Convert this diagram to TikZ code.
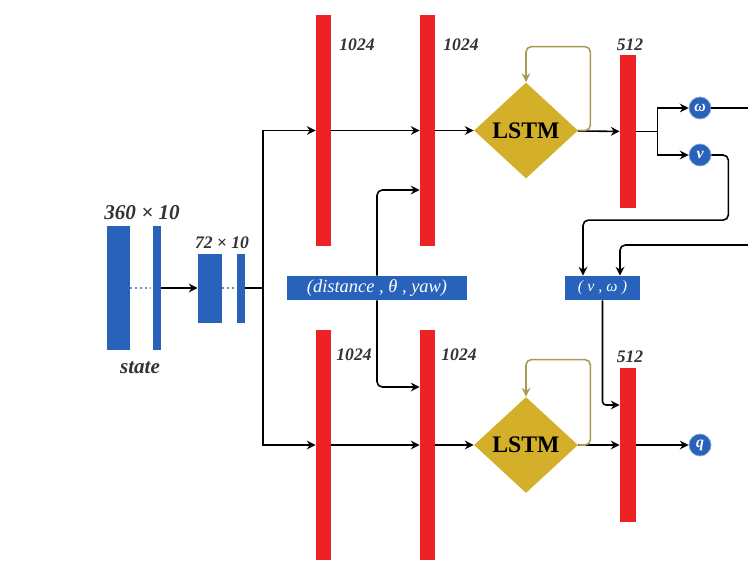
\documentclass[tikz,border=0pt]{standalone}
\usepackage{fontspec}
\setmainfont{Liberation Serif}
\usetikzlibrary{shapes.geometric, arrows.meta}

\definecolor{barred}{RGB}{236,34,38}
\definecolor{netblue}{RGB}{40,98,186}
\definecolor{lstmgold}{RGB}{212,176,42}
\definecolor{loopolive}{RGB}{168,156,84}

\begin{document}
\begin{tikzpicture}[
  redbar/.style={fill=barred, minimum width=0.30cm, minimum height=4.60cm, inner sep=0pt},
  bluebar/.style={fill=netblue, inner sep=0pt},
  lstm/.style={diamond, fill=lstmgold, minimum width=2.08cm, minimum height=1.92cm,
               inner sep=0pt, font=\fontsize{13.5}{16}\selectfont\bfseries},
  outnode/.style={circle, fill=netblue, draw=netblue!55, inner sep=0pt, minimum size=0.44cm,
                  text=white, font=\small\bfseries\itshape},
  inbox/.style={fill=netblue, text=white, font=\fontsize{10.5}{12}\selectfont\itshape,
                inner sep=0pt, minimum height=0.48cm},
  dimlbl/.style={font=\normalsize\bfseries\itshape, text=black!80},
  arrow/.style={-{Stealth[length=5pt, width=5pt]}, line width=0.9pt},
  fb/.style={-{Stealth[length=5pt, width=5pt]}, line width=0.9pt, loopolive, rounded corners=3pt},
]

% Canvas
\fill[white] (0,0) rectangle (14.96,-11.58);
\useasboundingbox (0,0) rectangle (14.96,-11.58);

% === Input stage ===
\node[bluebar, minimum width=0.46cm, minimum height=2.48cm] (st1) at (2.37,-5.76) {};
\node[bluebar, minimum width=0.16cm, minimum height=2.48cm] (st2) at (3.14,-5.76) {};
\node[bluebar, minimum width=0.48cm, minimum height=1.38cm] (sm1) at (4.20,-5.76) {};
\node[bluebar, minimum width=0.16cm, minimum height=1.38cm] (sm2) at (4.82,-5.76) {};
\draw[dotted, netblue!70, thick] (st1.east) -- (st2.west);
\draw[dotted, netblue!70, thick] (sm1.east) -- (sm2.west);

\node[dimlbl, font=\large\bfseries\itshape] (lst) at (2.84,-4.26) {360 × 10};
\node[dimlbl] (lsm) at (4.44,-4.86) {72 × 10};
\node[dimlbl, font=\large\bfseries\itshape] (lstate) at (2.80,-7.36) {state};

\draw[arrow] (st2.east) -- (sm1.west);
\coordinate (fork) at (5.26,-5.76);
\draw[line width=0.9pt] (sm2.east) -- (fork);

% === Top branch ===
\node[redbar] (fcA1) at (6.47,-2.61) {};
\node[redbar] (fcA2) at (8.55,-2.61) {};
\node[lstm] (lstmA) at (10.52,-2.61) {LSTM};
\node[redbar, minimum width=0.32cm, minimum height=3.06cm] (fcA3) at (12.56,-2.63) {};
\node[outnode] (outw) at (14.00,-2.16) {ω};
\node[outnode] (outv) at (14.00,-3.10) {v};

\node[dimlbl] at (7.14,-0.90) {1024};
\node[dimlbl] at (9.22,-0.90) {1024};
\node[dimlbl] at (12.60,-0.90) {512};

\draw[arrow] (fork) |- (fcA1);
\draw[arrow] (fcA1) -- (fcA2);
\draw[arrow] (fcA2) -- (lstmA);
\draw[arrow] (lstmA) -- (fcA3);
\draw[fb] (lstmA.east) -- ++(0.24,0) |- ([yshift=0.71cm]lstmA.north) -- (lstmA.north);
\draw[line width=0.9pt] (fcA3.east) -- ++(0.42,0) coordinate (sp);
\draw[arrow] (sp) |- (outw);
\draw[arrow] (sp) |- (outv);

% === Bottom branch ===
\node[redbar] (fcB1) at (6.47,-8.90) {};
\node[redbar] (fcB2) at (8.55,-8.90) {};
\node[lstm] (lstmB) at (10.52,-8.90) {LSTM};
\node[redbar, minimum width=0.32cm, minimum height=3.08cm] (fcB3) at (12.56,-8.90) {};
\node[outnode] (outq) at (14.00,-8.90) {q};

\node[dimlbl] at (7.08,-7.10) {1024};
\node[dimlbl] at (9.18,-7.10) {1024};
\node[dimlbl] at (12.60,-7.14) {512};

\draw[arrow] (fork) |- (fcB1);
\draw[arrow] (fcB1) -- (fcB2);
\draw[arrow] (fcB2) -- (lstmB);
\draw[arrow] (lstmB) -- (fcB3);
\draw[fb] (lstmB.east) -- ++(0.24,0) |- ([yshift=0.74cm]lstmB.north) -- (lstmB.north);
\draw[arrow] (fcB3) -- (outq);

% === Extra inputs ===
\node[inbox, minimum width=3.60cm] (dist) at (7.54,-5.76) {(distance , θ , yaw)};
\node[inbox, minimum width=1.50cm, font=\small\itshape] (vw) at (12.05,-5.76) {(\;v , ω\;)};

\draw[arrow, rounded corners=3pt] (dist.north) |- ([yshift=-1.19cm]fcA2.west);
\draw[arrow, rounded corners=3pt] (dist.south) |- ([yshift=1.16cm]fcB2.west);

\coordinate (wout) at (14.96,-2.16);
\coordinate (win) at (14.96,-4.90);
\draw[line width=0.9pt] (outw) -- (wout);
\draw[arrow, rounded corners=3pt] (win) -| ([xshift=0.35cm]vw.north);
\draw[arrow, rounded corners=3pt] (outv.east) -- ++(0.34,0) |- ([xshift=-0.39cm, yshift=1.11cm]vw.north)
  -- ([xshift=-0.39cm]vw.north);
\draw[arrow, rounded corners=2pt] (vw.south) |- ([yshift=0.80cm]fcB3.west);

\end{tikzpicture}
\end{document}
